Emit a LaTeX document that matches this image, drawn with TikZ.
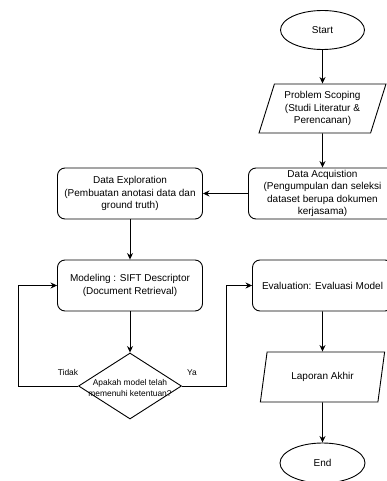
\documentclass[tikz,border=0pt]{standalone}
\usepackage{fontspec}
\setmainfont{Liberation Sans}
\usetikzlibrary{shapes.geometric,arrows.meta}

\begin{document}
\begin{tikzpicture}[x=1pt,y=-1pt,
  every node/.style={font=\fontsize{10}{12.5}\selectfont, align=center},
  line/.style={draw=black, line width=0.9pt},
  arr/.style={line, -{Stealth[length=6.5pt,width=6pt]}},
  term/.style={draw, line width=0.9pt, ellipse, minimum width=84pt, minimum height=39pt, inner sep=0pt},
  proc/.style={draw, line width=0.9pt, rounded corners=7.5pt, minimum height=51pt, inner sep=1pt},
  io/.style={draw, line width=0.9pt, trapezium, trapezium left angle=71, trapezium right angle=109, trapezium stretches=true, inner sep=1pt},
  decision/.style={draw, line width=0.9pt, diamond, minimum width=103pt, minimum height=66pt, inner sep=0pt},
  lbl/.style={font=\fontsize{8.4}{11}\selectfont}
]
\fill[white] (0,0) rectangle (387,481);
\useasboundingbox (0,0) rectangle (387,481);

\node[term] (start) at (322.5,30) {Start};
\node[io, minimum width=127pt, minimum height=49pt] (ps) at (322.5,108.5) {Problem Scoping\\(Studi Literatur \&\\Perencanan)};
\node[proc, minimum width=148pt] (acq) at (322.5,193.5) {Data Acquistion\\(Pengumpulan dan seleksi\\dataset berupa dokumen\\kerjasama)};
\node[proc, minimum width=145pt] (exp) at (130,193.5) {Data Exploration\\(Pembuatan anotasi data dan\\ground truth)};
\node[proc, minimum width=145pt] (mod) at (130,285.5) {Modeling : SIFT Descriptor\\(Document Retrieval)};
\node[proc, minimum width=140pt] (eval) at (322.5,285.5) {Evaluation: Evaluasi Model};
\node[decision] (dec) at (130,386) {};
\node[lbl] (dectext) at (130,387.5) {Apakah model telah\\memenuhi ketentuan?};
\node[io, minimum width=125pt, minimum height=50pt] (lap) at (322.5,377) {Laporan Akhir};
\node[term, minimum width=85pt, minimum height=40pt] (end) at (322.5,463) {End};

\node[lbl] (tidak) at (68,372) {Tidak};
\node[lbl] (ya) at (192,373) {Ya};

\coordinate (lp) at (18,386);
\coordinate (rp) at (226,386);

\draw[arr] (start) -- (ps);
\draw[arr] (ps) -- (acq);
\draw[arr] (acq) -- (exp);
\draw[arr] (exp) -- (mod);
\draw[arr] (mod) -- (dec);
\draw[arr] (dec.west) -- (lp) |- (mod.west);
\draw[arr] (dec.east) -- (rp) |- (eval.west);
\draw[arr] (eval) -- (lap);
\draw[arr] (lap) -- (end);
\end{tikzpicture}
\end{document}
